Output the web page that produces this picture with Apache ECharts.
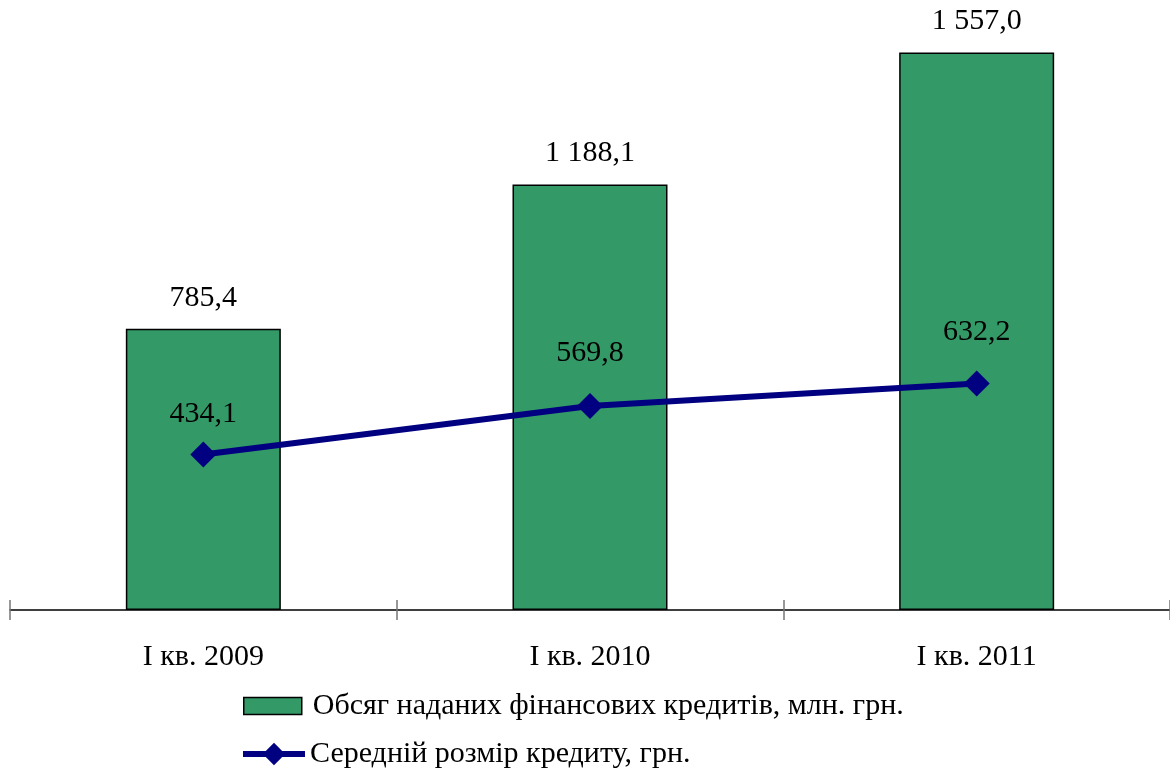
<!DOCTYPE html>
<html>
<head>
<meta charset="utf-8">
<script src="https://cdn.jsdelivr.net/npm/echarts@6/dist/echarts.min.js"></script>
<style>
  html, body { margin: 0; padding: 0; background: #fff; }
  #chart { width: 1170px; height: 775px; }
</style>
</head>
<body>
<div id="chart"></div>
<script>
// дані
var categories = ['І кв. 2009', 'І кв. 2010', 'І кв. 2011'];
var creditVolume = [785.4, 1188.1, 1557.0];   // млн. грн.
var avgCredit = [434.1, 569.8, 632.2];        // грн.
var seriesNames = ['Обсяг наданих фінансових кредитів, млн. грн.', 'Середній розмір кредиту, грн.'];

// відступи підписів лінії (як у вихідному малюнку)
var lineLabelGap = [12, 25, 23];

function fmt (v) {
  var s = v.toFixed(1).split('.');
  var int = s[0].replace(/\B(?=(\d{3})+(?!\d))/g, ' ');
  return int + ',' + s[1];
}

var font = 'Liberation Serif';
var chart = echarts.init(document.getElementById('chart'));
var option = {
  backgroundColor: '#fff',
  animation: false,
  textStyle: { fontFamily: font, color: '#000' },
  grid: { left: 10, right: 0, top: 37, bottom: 165 },
  legend: [{
    left: 238,
    top: 686,
    itemWidth: 58,
    itemHeight: 17,
    textStyle: { fontFamily: font, fontSize: 30, color: '#000', padding: [0, 0, 0, 6] },
    data: [{ name: seriesNames[0], icon: 'rect', itemStyle: { borderColor: '#000', borderWidth: 1.5 } }]
  }, {
    left: 235,
    top: 734,
    itemWidth: 62,
    itemHeight: 28,
    textStyle: { fontFamily: font, fontSize: 30, color: '#000' },
    data: [{ name: seriesNames[1], lineStyle: { width: 6 } }]
  }],
  xAxis: [{
    type: 'category',
    data: categories,
    axisLine: { lineStyle: { color: '#000', width: 1.5 } },
    axisTick: { show: true, length: 10, lineStyle: { color: '#777', width: 1.5 } },
    axisLabel: { fontFamily: font, fontSize: 30, color: '#000', margin: 32 }
  }, {
    type: 'category',
    data: categories,
    position: 'bottom',
    axisLine: { show: false },
    axisTick: { show: true, inside: true, length: 10, lineStyle: { color: '#777', width: 1.5 } },
    axisLabel: { show: false }
  }],
  yAxis: {
    type: 'value',
    min: 0,
    max: 1600,
    show: false,
    splitLine: { show: false }
  },
  series: [{
    name: seriesNames[0],
    type: 'bar',
    data: creditVolume,
    barWidth: 155,
    itemStyle: { color: '#339966', borderColor: '#000', borderWidth: 1.5 },
    label: {
      show: true,
      position: 'top',
      distance: 16,
      fontFamily: font,
      fontSize: 30,
      color: '#000',
      formatter: function (p) { return fmt(p.value); }
    },
    z: 2
  }, {
    name: seriesNames[1],
    type: 'line',
    data: avgCredit.map(function (v, i) {
      return { value: v, label: { distance: lineLabelGap[i] } };
    }),
    symbol: 'diamond',
    symbolSize: 26,
    color: '#000080',
    lineStyle: { color: '#000080', width: 6 },
    itemStyle: { color: '#000080' },
    label: {
      show: true,
      position: 'top',
      fontFamily: font,
      fontSize: 30,
      color: '#000',
      formatter: function (p) { return fmt(p.value); }
    },
    z: 3
  }]
};
chart.setOption(option);
</script>
</body>
</html>
